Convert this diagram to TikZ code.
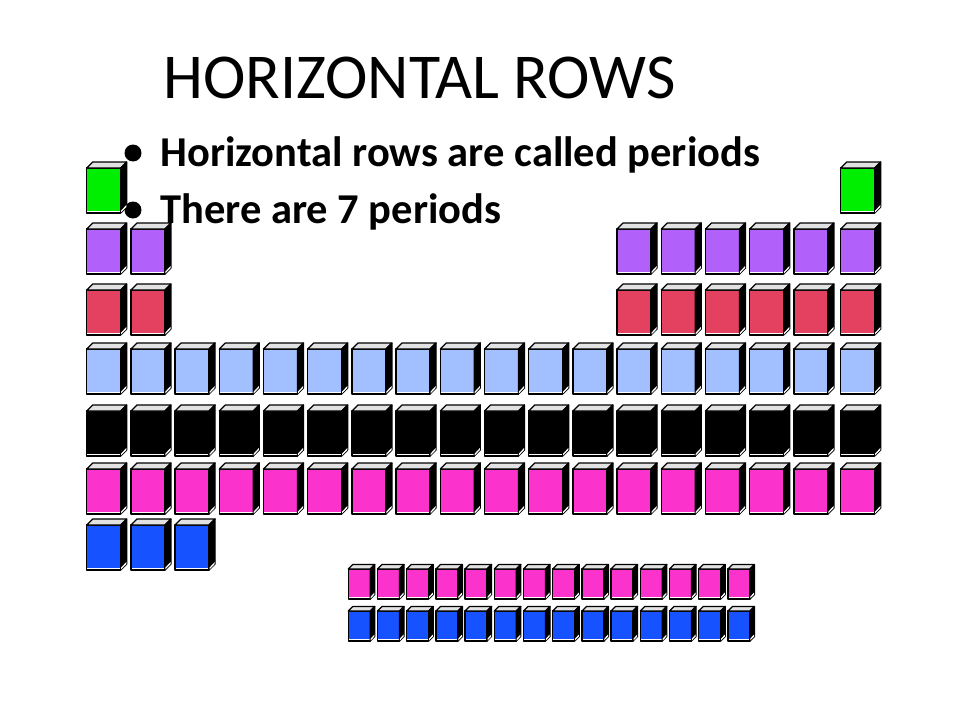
\documentclass[tikz,border=0pt]{standalone}
\usepackage{fontspec}
\setmainfont{Carlito}
\usepackage{tikz}
\usetikzlibrary{calc}

\definecolor{pgreen}{RGB}{0,238,0}
\definecolor{ppurple}{RGB}{178,96,250}
\definecolor{pred}{RGB}{228,64,96}
\definecolor{plblue}{RGB}{162,192,255}
\definecolor{pmagenta}{RGB}{252,50,204}
\definecolor{pblue}{RGB}{22,82,255}
\definecolor{topgray}{RGB}{226,226,226}

\tikzset{edge/.style={draw=black, line width=0.7pt, line join=round}}

% one element block: left, top, width, height, depth, colour
\newcommand{\elcube}[6]{%
  \pgfmathsetmacro{\cxa}{#1}%
  \pgfmathsetmacro{\cxb}{#1+#3}%
  \pgfmathsetmacro{\cya}{#2}%
  \pgfmathsetmacro{\cyb}{#2+#4}%
  \pgfmathsetmacro{\cd}{#5}%
  \fill[white] (\cxa,\cya) rectangle (\cxb,\cyb);
  \fill[#6] (\cxa,\cya) rectangle (\cxb,\cyb-2);
  \draw[edge] (\cxa,\cya) rectangle (\cxb,\cyb);
  \draw[edge, fill=topgray] (\cxa,\cya) -- (\cxa+\cd,\cya-\cd) -- (\cxb+\cd,\cya-\cd) -- (\cxb,\cya) -- cycle;
  \draw[edge, fill=black] (\cxb,\cya) -- (\cxb+\cd,\cya-\cd) -- (\cxb+\cd,\cyb-\cd) -- (\cxb,\cyb) -- cycle;
  \fill[white] (\cxb+0.4,\cyb-0.6) -- (\cxb+\cd-0.4,\cyb-\cd) -- (\cxb+\cd-0.4,\cyb-\cd-2) -- (\cxb+0.4,\cyb-2.4) -- cycle;
}
% main table block: column, top, colour
\newcommand{\pel}[3]{\elcube{86.7+(#1-1)*44.2+(#1==18)*2.6}{#2}{34}{45}{6}{#3}}
% f-block: index, top, colour
\newcommand{\fel}[3]{\elcube{348.3+(#1-1)*29.2}{#2}{22}{30}{4.5}{#3}}

\begin{document}
\begin{tikzpicture}[x=0.02cm, y=-0.02cm]
    \useasboundingbox (0,0) rectangle (960,720);
    %Title
    \node[anchor=base west, inner sep=0pt] (title) at (163,98) {\fontsize{36.4}{40}\selectfont HORIZONTAL ROWS};
    %Bullets
    \fill (133,153) circle[radius=0.17cm];
    \node[anchor=base west, inner sep=0pt] (line1) at (160,166) {\fontsize{24.2}{28}\selectfont\bfseries Horizontal rows are called periods};
    \fill (133,210) circle[radius=0.17cm];
    \node[anchor=base west, inner sep=0pt] (line2) at (160,223) {\fontsize{24.2}{28}\selectfont\bfseries There are 7 periods};
    %Period 1
    \foreach \c in {1,18} {\pel{\c}{168}{pgreen}}
    %Period 2
    \foreach \c in {1,2,13,14,...,18} {\pel{\c}{229}{ppurple}}
    %Period 3
    \foreach \c in {1,2,13,14,...,18} {\pel{\c}{290}{pred}}
    %Period 4
    \foreach \c in {1,...,18} {\pel{\c}{349}{plblue}}
    %Period 5
    \foreach \c in {1,...,18} {\pel{\c}{411}{black}}
    %Period 6
    \foreach \c in {1,...,18} {\pel{\c}{469}{pmagenta}}
    %Period 7
    \foreach \c in {1,2,3} {\pel{\c}{525}{pblue}}
    %Lanthanides and actinides
    \foreach \i in {1,...,14} {\fel{\i}{569}{pmagenta}}
    \foreach \i in {1,...,14} {\fel{\i}{611}{pblue}}
\end{tikzpicture}
\end{document}
